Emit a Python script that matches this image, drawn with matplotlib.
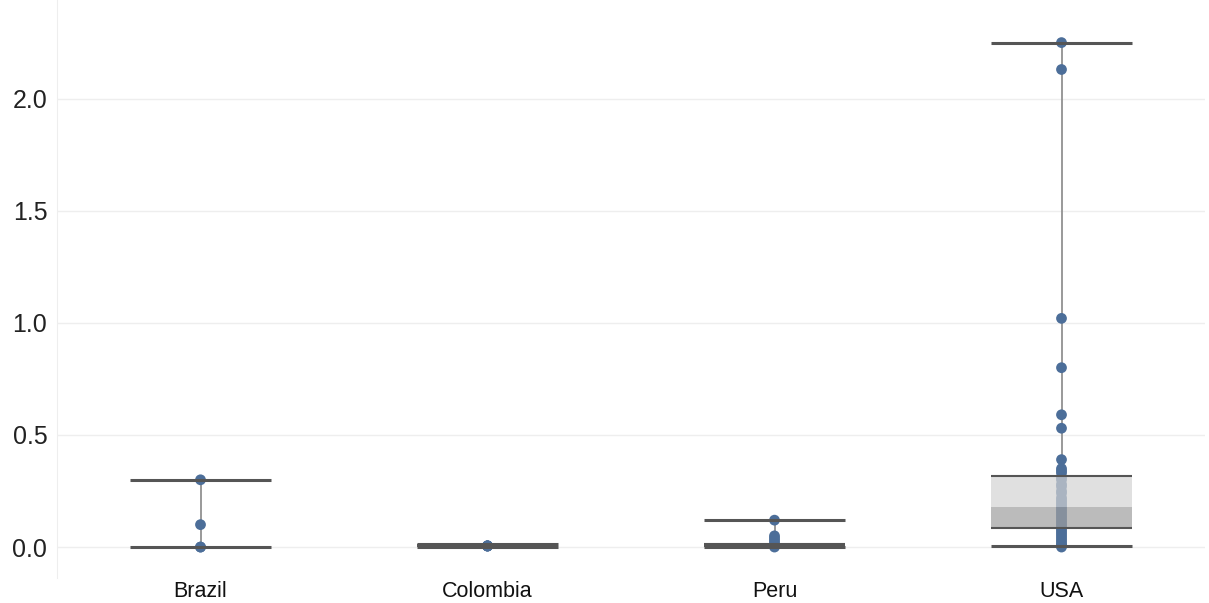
import numpy as np
import matplotlib.pyplot as plt

plt.rcParams['font.family'] = ['Liberation Sans', 'DejaVu Sans']

# === DATA ===
countries = ["Brazil", "Colombia", "Peru", "USA"]

brazil_vals = [0.0, 0.0, 0.1, 0.3]
colombia_vals = [0.005, 0.005, 0.006, 0.004, 0.005]
peru_vals = [0.12, 0.05, 0.04, 0.03, 0.02, 0.01, 0.005, 0.0]
usa_vals = [2.25, 2.13, 1.02, 0.80, 0.59, 0.53, 0.39, 0.35, 0.34, 0.33,
            0.31, 0.30, 0.28, 0.27, 0.25, 0.24, 0.22, 0.21, 0.20, 0.19,
            0.18, 0.17, 0.16, 0.15, 0.14, 0.13, 0.12, 0.11, 0.10, 0.09,
            0.08, 0.07, 0.06, 0.05, 0.04, 0.03, 0.02, 0.01, 0.005, 0.0]
points = [brazil_vals, colombia_vals, peru_vals, usa_vals]

# whisker ends and box stats (nan = no box drawn)
whisk_lo = [0.0, 0.0, 0.0, 0.005]
whisk_hi = [0.30, 0.012, 0.12, 2.25]
q1 = [np.nan, 0.003, 0.003, 0.085]
med = [np.nan, 0.005, 0.006, 0.179]
q3 = [np.nan, 0.008, 0.012, 0.317]

yticks = [0.0, 0.5, 1.0, 1.5, 2.0]
# === END DATA ===

POINT_COLOR = "#4c6e99"
LINE_COLOR = "#555555"
HALF = 0.245

fig = plt.figure(figsize=(12.09, 6.03), dpi=100)
ax = fig.add_axes([57 / 1209, 1 - 578 / 603, 1148 / 1209, 578 / 603])

for i, name in enumerate(countries):
    # stem
    ax.plot([i, i], [whisk_lo[i], whisk_hi[i]], color="#888888", lw=1.2, zorder=2)
    # points
    ax.scatter([i] * len(points[i]), points[i], s=60, color=POINT_COLOR,
               edgecolors="none", zorder=3)
    # box
    if not np.isnan(q1[i]):
        ax.fill_between([i - HALF, i + HALF], med[i], q3[i], color="#d3d3d3",
                        alpha=0.7, lw=0, zorder=4)
        ax.fill_between([i - HALF, i + HALF], q1[i], med[i], color="#9f9f9f",
                        alpha=0.7, lw=0, zorder=4)
        ax.hlines([q1[i], q3[i]], i - HALF, i + HALF, color=LINE_COLOR,
                  lw=1.5, zorder=5)
    # caps
    ax.hlines([whisk_lo[i], whisk_hi[i]], i - HALF, i + HALF, color=LINE_COLOR,
              lw=2.2, zorder=5)

ax.set_xlim(-0.5, 3.5)
ax.set_ylim(-0.138, 2.44)
ax.set_xticks(range(len(countries)))
ax.set_xticklabels(countries, fontsize=15.5, color="#111111")
ax.set_yticks(yticks)
ax.set_yticklabels([f"{v:.1f}" for v in yticks], fontsize=18, color="#222222")
ax.tick_params(axis="both", length=0)
ax.tick_params(axis="x", pad=2)
ax.tick_params(axis="y", pad=7)
ax.grid(axis="y", color="#eeeeee", lw=1)
ax.set_axisbelow(True)
for side in ["top", "right", "bottom"]:
    ax.spines[side].set_visible(False)
ax.spines["left"].set_color("#eeeeee")

fig.savefig("out.png", dpi=100)
